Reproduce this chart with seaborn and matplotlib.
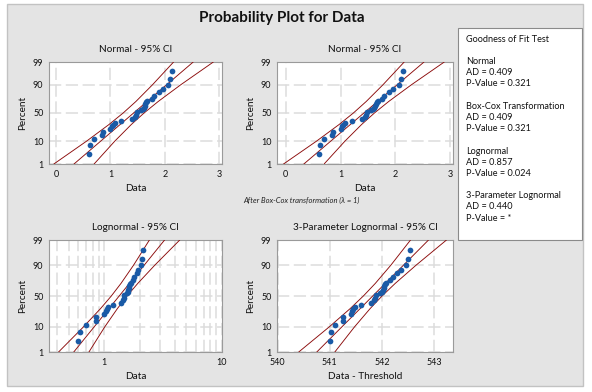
import numpy as np
import matplotlib
matplotlib.use("Agg")
import matplotlib.pyplot as plt
import matplotlib.ticker as mticker
from matplotlib.patches import Rectangle
import seaborn as sns
from statistics import NormalDist

# Sample values and their plotting positions (percent)
data_values = [0.60, 0.62, 0.70, 0.845, 0.86, 1.00, 1.03, 1.05, 1.08, 1.20,
               1.39, 1.45, 1.47, 1.48, 1.56, 1.59, 1.61, 1.63, 1.64, 1.66,
               1.68, 1.76, 1.80, 1.89, 1.96, 2.06, 2.10, 2.14]
percent_values = [3.0, 7.0, 11.5, 15.4, 19.3, 23.3, 27.2, 29.7, 32.4, 35.8,
                  38.6, 42.8, 46.4, 51.2, 54.8, 57.2, 59.6, 63.1, 65.9, 68.7,
                  70.8, 74.3, 78.5, 82.7, 86.0, 89.9, 93.8, 97.3]
threshold = -540.4

# Fitted line and 95% CI band, x read at these percent levels
band_percent = [1, 10, 30, 50, 70, 90, 99]

normal_fit = [0.329, 0.821, 1.178, 1.425, 1.672, 2.029, 2.521]
normal_lo = [-0.041, 0.562, 0.973, 1.233, 1.467, 1.770, 2.160]
normal_hi = [0.699, 1.080, 1.383, 1.617, 1.877, 2.288, 2.891]

lognormal_fit = [0.552, 0.823, 1.099, 1.343, 1.641, 2.192, 3.266]
lognormal_lo = [0.410, 0.668, 0.932, 1.151, 1.392, 1.780, 2.427]
lognormal_hi = [0.743, 1.013, 1.296, 1.567, 1.934, 2.698, 4.395]

lognorm3_fit = [540.750, 541.230, 541.579, 541.820, 542.061, 542.410, 542.890]
lognorm3_lo = [540.405, 540.989, 541.388, 541.641, 541.870, 542.168, 542.545]
lognorm3_hi = [541.095, 541.472, 541.770, 541.999, 542.252, 542.652, 543.235]

percent_ticks = [1, 10, 50, 90, 99]

gof_lines = ["Goodness of Fit Test", "",
             "Normal", "AD = 0.409", "P-Value = 0.321", "",
             "Box-Cox Transformation", "AD = 0.409", "P-Value = 0.321", "",
             "Lognormal", "AD = 0.857", "P-Value = 0.024", "",
             "3-Parameter Lognormal", "AD = 0.440", "P-Value = *"]

sns.set_theme(style="white")
plt.rcParams["font.family"] = ["Lato", "DejaVu Sans"]

W, H = 592, 392
fig = plt.figure(figsize=(W / 100, H / 100), dpi=100)
fig.patch.set_facecolor("white")
fig.patches.append(Rectangle((7 / W, 1 - 386 / H), 576 / W, 382 / H,
                             transform=fig.transFigure, facecolor="#e4e4e4",
                             edgecolor="#c2c2c2", linewidth=1, zorder=-10))

nd = NormalDist()
_fwd = np.vectorize(lambda v: nd.inv_cdf(min(max(v, 1e-4), 100 - 1e-4) / 100), otypes=[float])
_inv = np.vectorize(lambda v: nd.cdf(v) * 100, otypes=[float])


def probit(p):
    return _fwd(np.asarray(p, dtype=float))


def probit_inv(z):
    return _inv(np.asarray(z, dtype=float))


def box(l, r, t, b):
    return fig.add_axes([l / W, 1 - b / H, (r - l) / W, (b - t) / H])


POINT = "#1a5aa6"
LINE = "#8b0a0a"
GRID = "#dcdcdc"


def panel(ax, xs, fit, lo, hi, title, xlabel, xlim):
    ax.set_facecolor("white")
    ax.set_yscale("function", functions=(probit, probit_inv))
    for xl in (lo, fit, hi):
        sns.lineplot(x=xl, y=band_percent, ax=ax, color=LINE, lw=0.65,
                     estimator=None, sort=False, zorder=3)
    sns.scatterplot(x=xs, y=percent_values, ax=ax, color=POINT, s=17,
                    linewidth=0, marker="o", zorder=4)
    ax.set_ylim(1, 99)
    ax.set_xlim(*xlim)
    ax.yaxis.set_major_locator(mticker.FixedLocator(percent_ticks))
    ax.yaxis.set_major_formatter(mticker.FixedFormatter([str(t) for t in percent_ticks]))
    ax.yaxis.set_minor_locator(mticker.NullLocator())
    ax.grid(True, which="both", color=GRID, lw=1.1, ls=(0, (8, 3)))
    ax.set_axisbelow(True)
    for s in ax.spines.values():
        s.set_color("#9a9a9a")
        s.set_linewidth(0.8)
    ax.tick_params(axis="both", which="both", labelsize=6.5, length=2,
                   pad=2, color="#9a9a9a", labelcolor="#111111")
    ax.tick_params(axis="x", which="minor", length=0)
    ax.set_title(title, fontsize=7.2, pad=7, color="#111111")
    ax.set_xlabel(xlabel, fontsize=7.2, labelpad=4, color="#111111")
    ax.set_ylabel("Percent", fontsize=7.2, labelpad=4, color="#111111")


ax1 = box(49, 222, 62, 164)
panel(ax1, data_values, normal_fit, normal_lo, normal_hi,
      "Normal - 95% CI", "Data", (-0.13, 3.05))
ax1.xaxis.set_major_locator(mticker.FixedLocator([0, 1, 2, 3]))

ax2 = box(277, 453, 62, 164)
panel(ax2, data_values, normal_fit, normal_lo, normal_hi,
      "Normal - 95% CI", "Data", (-0.16, 3.05))
ax2.xaxis.set_major_locator(mticker.FixedLocator([0, 1, 2, 3]))

ax3 = box(49, 222, 240, 352)
ax3.set_xscale("log")
panel(ax3, data_values, lognormal_fit, lognormal_lo, lognormal_hi,
      "Lognormal - 95% CI", "Data", (0.34, 10.05))
ax3.xaxis.set_major_locator(mticker.FixedLocator([1, 10]))
ax3.xaxis.set_major_formatter(mticker.FixedFormatter(["1", "10"]))
ax3.xaxis.set_minor_locator(mticker.FixedLocator(
    [0.4, 0.5, 0.6, 0.7, 0.8, 0.9, 2, 3, 4, 5, 6, 7, 8, 9]))
ax3.xaxis.set_minor_formatter(mticker.NullFormatter())

shifted = [v - threshold for v in data_values]
ax4 = box(277, 453, 240, 352)
ax4.set_xscale("log")
panel(ax4, shifted, lognorm3_fit, lognorm3_lo, lognorm3_hi,
      "3-Parameter Lognormal - 95% CI", "Data - Threshold", (539.99, 543.36))
ax4.xaxis.set_major_locator(mticker.FixedLocator([540, 541, 542, 543]))
ax4.xaxis.set_major_formatter(mticker.FixedFormatter(["540", "541", "542", "543"]))
ax4.xaxis.set_minor_locator(mticker.NullLocator())

fig.text(282 / W, 1 - 18 / H, "Probability Plot for Data", ha="center",
         va="center", fontsize=11, fontweight="bold", color="#111111")
fig.text(243 / W, 1 - 200 / H, "After Box-Cox transformation (\u03bb = 1)",
         ha="left", va="center", fontsize=5.5, style="italic", color="#222222")

# goodness of fit box
fig.patches.append(Rectangle((458 / W, 1 - 240 / H), 124 / W, 212 / H,
                             transform=fig.transFigure, facecolor="white",
                             edgecolor="#8a8a8a", linewidth=0.8))
for i, line in enumerate(gof_lines):
    if line:
        fig.text(466 / W, 1 - (39 + i * 11.2) / H, line, ha="left",
                 va="center", fontsize=6.6, color="#111111")

fig.savefig("out.png", dpi=100)
